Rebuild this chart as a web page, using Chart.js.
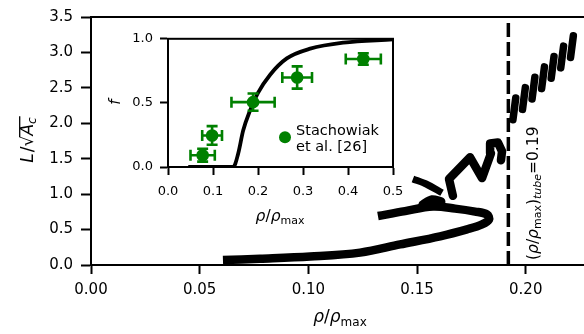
<!DOCTYPE html>
<html>
<head>
<meta charset="utf-8">
<script src="https://cdn.jsdelivr.net/npm/chart.js@4.4.0/dist/chart.umd.min.js"></script>
<style>
  html, body { margin: 0; padding: 0; background: #fff; }
  #wrap { position: relative; width: 584px; height: 334px; overflow: hidden; }
  #main { position: absolute; left: 0; top: 0; }
  #inset { position: absolute; left: 100px; top: 24px; }
</style>
</head>
<body>
<div id="wrap">
  <canvas id="main" width="584" height="334"></canvas>
  <canvas id="inset" width="320" height="210"></canvas>
</div>
<script>
// ---- main panel data (rho/rho_max vs L/sqrt(A_c)) ----
const rhoTicks = [0, 0.05, 0.10, 0.15, 0.20];
const LTicks = [0, 0.5, 1.0, 1.5, 2.0, 2.5, 3.0, 3.5];

// lower branch, turning back near rho ~0.184
const spiralRho = [0.0607, 0.0778, 0.1008, 0.1238, 0.1422, 0.1606, 0.1730, 0.1799, 0.1831, 0.1822, 0.1767, 0.1675, 0.1573, 0.1445, 0.1320];
const spiralL   = [0.070, 0.088, 0.119, 0.175, 0.290, 0.405, 0.503, 0.572, 0.642, 0.712, 0.754, 0.796, 0.824, 0.761, 0.691];

const knotRho = [0.1527, 0.1569, 0.1610];
const knotL   = [0.852, 0.921, 0.893];

const dashRho = [0.1481, 0.1544, 0.1615];
const dashL   = [1.215, 1.140, 1.019];

const zigRho = [0.1665, 0.1647, 0.1744, 0.1799, 0.1840, 0.1836, 0.1872, 0.1891, 0.1886];
const zigL   = [0.976, 1.213, 1.520, 1.227, 1.576, 1.715, 1.729, 1.604, 1.478];

// upper helix strokes (null = gap between strokes)
const helixRho = [0.1941, 0.1954, null, 0.1985, 0.1998, null, 0.2029, 0.2042, null, 0.2073, 0.2086, null,
                  0.2117, 0.2130, null, 0.2161, 0.2174, null, 0.2206, 0.2219];
const helixL   = [2.050, 2.357, null, 2.196, 2.503, null, 2.343, 2.650, null, 2.489, 2.796, null,
                  2.636, 2.942, null, 2.782, 3.089, null, 2.928, 3.235];

const tubeRho = [0.192, 0.192];
const tubeL   = [0, 3.5];

// ---- inset data ----
const fracRhoTicks = [0, 0.1, 0.2, 0.3, 0.4, 0.5];
const fracTicks = [0, 0.5, 1.0];
const modelRho = [0.045, 0.145, 0.156, 0.167, 0.182, 0.200, 0.227, 0.264, 0.316, 0.390, 0.500];
const modelF   = [0, 0, 0.105, 0.284, 0.437, 0.578, 0.720, 0.847, 0.923, 0.970, 0.995];
const expRho    = [0.077, 0.098, 0.189, 0.287, 0.434];
const expF      = [0.092, 0.246, 0.506, 0.698, 0.842];
const expRhoErr = [0.027, 0.022, 0.048, 0.033, 0.039];
const expFErr   = [0.050, 0.073, 0.067, 0.087, 0.045];
const legendLines = ['Stachowiak', 'et al. [26]'];

const FONT = "'DejaVu Sans'";
const GREEN = '#008000';

function pts(xs, ys) {
  return xs.map((x, i) => ({ x: x, y: ys[i] }));
}

// split a null-separated series into runs
function runs(xs, ys) {
  const out = [];
  let cur = [];
  xs.forEach((x, i) => {
    if (x === null) { if (cur.length) out.push(cur); cur = []; }
    else cur.push({ x: x, y: ys[i] });
  });
  if (cur.length) out.push(cur);
  return out;
}

// draws a run of text pieces (for subscripts), returns piece offsets
function drawRich(ctx, parts, x, y, angle, align) {
  ctx.save();
  ctx.translate(x, y);
  ctx.rotate(angle || 0);
  ctx.fillStyle = '#000';
  ctx.textBaseline = 'alphabetic';
  ctx.textAlign = 'left';
  let w = 0;
  parts.forEach(p => { ctx.font = p.font; w += ctx.measureText(p.text).width + (p.gap || 0); });
  let cx = align === 'center' ? -w / 2 : 0;
  const pos = [];
  parts.forEach(p => {
    ctx.font = p.font;
    const pw = ctx.measureText(p.text).width;
    ctx.fillText(p.text, cx, p.dy || 0);
    pos.push({ start: cx, end: cx + pw });
    cx += pw + (p.gap || 0);
  });
  ctx.restore();
  return pos;
}

function rhoLabel(fs) {
  return [
    { text: 'ρ', font: `italic ${fs}px ${FONT}` },
    { text: '/', font: `${fs}px ${FONT}` },
    { text: 'ρ', font: `italic ${fs}px ${FONT}` },
    { text: 'max', font: `${Math.round(fs * 0.7)}px ${FONT}`, dy: fs * 0.22 }
  ];
}

const mainDecor = {
  id: 'mainDecor',
  afterDraw(chart) {
    const ctx = chart.ctx, a = chart.chartArea;
    // top spine
    ctx.save();
    ctx.strokeStyle = '#000';
    ctx.lineWidth = 2;
    ctx.beginPath();
    ctx.moveTo(a.left - 1, a.top);
    ctx.lineTo(a.right, a.top);
    ctx.stroke();
    ctx.restore();

    // x title
    drawRich(ctx, rhoLabel(17), 340, 322, 0, 'center');

    // y title  L/sqrt(A_c)
    const fs = 17;
    const yParts = [
      { text: 'L', font: `italic ${fs}px ${FONT}`, gap: 1 },
      { text: '/', font: `${fs}px ${FONT}` },
      { text: '√', font: `${fs}px ${FONT}` },
      { text: 'A', font: `italic ${fs}px ${FONT}` },
      { text: 'c', font: `italic ${Math.round(fs * 0.7)}px ${FONT}`, dy: fs * 0.2 }
    ];
    const yx = 33, yy = 140;
    const pos = drawRich(ctx, yParts, yx, yy, -Math.PI / 2, 'center');
    ctx.save();
    ctx.translate(yx, yy);
    ctx.rotate(-Math.PI / 2);
    ctx.font = `${fs}px ${FONT}`;
    const top = ctx.measureText('√').actualBoundingBoxAscent;
    ctx.strokeStyle = '#000';
    ctx.lineWidth = 1.3;
    ctx.beginPath();
    ctx.moveTo(pos[2].end - 1.5, -top + 0.7);
    ctx.lineTo(pos[4].end + 1, -top + 0.7);
    ctx.stroke();
    ctx.restore();

    // tube label, rotated
    const ts = 15.5;
    const tParts = [
      { text: '(', font: `${ts}px ${FONT}` },
      ...rhoLabel(ts),
      { text: ')', font: `${ts}px ${FONT}` },
      { text: 'tube', font: `italic ${Math.round(ts * 0.7)}px ${FONT}`, dy: ts * 0.22 },
      { text: '=0.19', font: `${ts}px ${FONT}` }
    ];
    drawRich(ctx, tParts, 538, 260, -Math.PI / 2, 'left');
  }
};

const tickFont = { family: 'DejaVu Sans', size: 15 };

const thick = { showLine: true, borderColor: '#000', pointRadius: 0, borderJoinStyle: 'round' };
const helixSets = runs(helixRho, helixL).map(r => Object.assign({ data: r, borderWidth: 7.5, borderCapStyle: 'round' }, thick));

new Chart(document.getElementById('main'), {
  type: 'scatter',
  data: {
    datasets: [
      ...helixSets,
      Object.assign({ data: pts(zigRho, zigL), borderWidth: 8.5, borderCapStyle: 'round' }, thick),
      Object.assign({ data: pts(dashRho, dashL), borderWidth: 7, borderCapStyle: 'butt', tension: 0.3 }, thick),
      Object.assign({ data: pts(knotRho, knotL), borderWidth: 9, borderCapStyle: 'round', tension: 0.3 }, thick),
      Object.assign({ data: pts(spiralRho, spiralL), borderWidth: 8.5, borderCapStyle: 'butt', tension: 0.35 }, thick),
      { data: pts(tubeRho, tubeL), showLine: true, borderColor: '#000', borderWidth: 3.5, borderDash: [14, 5], pointRadius: 0, borderCapStyle: 'butt' }
    ]
  },
  options: {
    responsive: false,
    animation: false,
    layout: { padding: { top: 14, right: 0, left: 0, bottom: 0 } },
    plugins: { legend: { display: false }, tooltip: { enabled: false } },
    scales: {
      x: {
        type: 'linear', min: 0, max: 0.2268,
        afterBuildTicks: s => { s.ticks = rhoTicks.map(v => ({ value: v })); },
        afterFit: s => { s.height = 69; },
        ticks: { font: tickFont, color: '#000', padding: 7, maxRotation: 0, callback: v => v.toFixed(2) },
        grid: { drawOnChartArea: false, drawTicks: true, tickLength: 9, tickWidth: 2, tickColor: '#000' },
        border: { display: true, color: '#000', width: 2 }
      },
      y: {
        type: 'linear', min: 0, max: 3.5,
        afterBuildTicks: s => { s.ticks = LTicks.map(v => ({ value: v })); },
        afterFit: s => { s.width = 91; },
        ticks: { font: tickFont, color: '#000', padding: 8, callback: v => v.toFixed(1) },
        grid: { drawOnChartArea: false, drawTicks: true, tickLength: 10, tickWidth: 2, tickColor: '#000' },
        border: { display: true, color: '#000', width: 2 }
      }
    }
  },
  plugins: [mainDecor]
});

// ---- inset ----
const insetDecor = {
  id: 'insetDecor',
  afterDatasetDraw(chart, args) {
    if (args.index !== 1) return;
    // error bars go over the model curve, under the markers
    const ctx = chart.ctx, xs = chart.scales.x, ys = chart.scales.y;
    ctx.save();
    ctx.strokeStyle = GREEN;
    ctx.lineWidth = 2.6;
    const cap = 5.5;
    expRho.forEach((r, i) => {
      const px = xs.getPixelForValue(r), py = ys.getPixelForValue(expF[i]);
      const x0 = xs.getPixelForValue(r - expRhoErr[i]), x1 = xs.getPixelForValue(r + expRhoErr[i]);
      const y0 = ys.getPixelForValue(expF[i] - expFErr[i]), y1 = ys.getPixelForValue(expF[i] + expFErr[i]);
      ctx.beginPath();
      ctx.moveTo(x0, py); ctx.lineTo(x1, py);
      ctx.moveTo(px, y0); ctx.lineTo(px, y1);
      ctx.moveTo(x0, py - cap); ctx.lineTo(x0, py + cap);
      ctx.moveTo(x1, py - cap); ctx.lineTo(x1, py + cap);
      ctx.moveTo(px - cap, y0); ctx.lineTo(px + cap, y0);
      ctx.moveTo(px - cap, y1); ctx.lineTo(px + cap, y1);
      ctx.stroke();
    });
    ctx.restore();
  },
  afterDraw(chart) {
    const ctx = chart.ctx, a = chart.chartArea;
    ctx.save();
    ctx.strokeStyle = '#000';
    ctx.lineWidth = 2;
    ctx.strokeRect(a.left, a.top, a.right - a.left, a.bottom - a.top);
    ctx.restore();

    // legend
    ctx.save();
    ctx.fillStyle = GREEN;
    ctx.beginPath();
    ctx.arc(185, 113.3, 6, 0, Math.PI * 2);
    ctx.fill();
    ctx.fillStyle = '#000';
    ctx.font = `14.5px ${FONT}`;
    ctx.textBaseline = 'alphabetic';
    ctx.fillText(legendLines[0], 196, 111);
    ctx.fillText(legendLines[1], 196, 126.5);
    ctx.restore();

    // axis titles
    drawRich(ctx, rhoLabel(15.5), 180, 197, 0, 'center');
    drawRich(ctx, [{ text: 'f', font: `italic 15px ${FONT}` }], 20, 78, -Math.PI / 2, 'center');
  }
};

const insetTickFont = { family: 'DejaVu Sans', size: 13 };

new Chart(document.getElementById('inset'), {
  type: 'scatter',
  data: {
    datasets: [
      { data: pts(expRho, expF), showLine: false, pointRadius: 6.3, pointBackgroundColor: GREEN, pointBorderWidth: 0 },
      { data: pts(modelRho, modelF), showLine: true, borderColor: '#000', borderWidth: 3.8, pointRadius: 0, cubicInterpolationMode: 'monotone' }
    ]
  },
  options: {
    responsive: false,
    animation: false,
    layout: { padding: { top: 13, right: 27, left: 0, bottom: 0 } },
    plugins: { legend: { display: false }, tooltip: { enabled: false } },
    scales: {
      x: {
        type: 'linear', min: 0, max: 0.5,
        afterBuildTicks: s => { s.ticks = fracRhoTicks.map(v => ({ value: v })); },
        afterFit: s => { s.height = 67; },
        ticks: { font: insetTickFont, color: '#000', padding: 9, maxRotation: 0, callback: v => v.toFixed(1) },
        grid: { drawOnChartArea: false, tickLength: 8, tickWidth: 2, tickColor: '#000' },
        border: { display: true, color: '#000', width: 2 }
      },
      y: {
        type: 'linear', min: 0, max: 1,
        afterBuildTicks: s => { s.ticks = fracTicks.map(v => ({ value: v })); },
        afterFit: s => { s.width = 68; },
        ticks: { font: insetTickFont, color: '#000', padding: 7, callback: v => v.toFixed(1) },
        grid: { drawOnChartArea: false, tickLength: 8, tickWidth: 2, tickColor: '#000' },
        border: { display: true, color: '#000', width: 2 }
      }
    }
  },
  plugins: [insetDecor]
});
</script>
</body>
</html>
